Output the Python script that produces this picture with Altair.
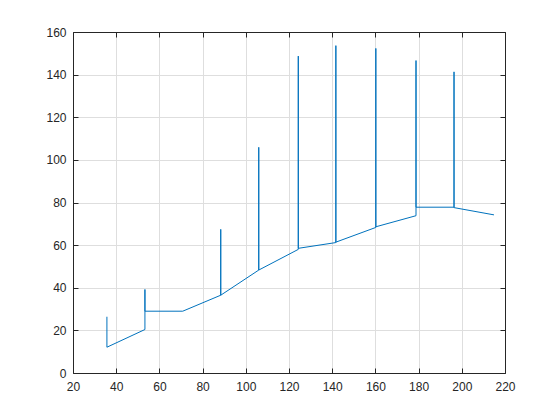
import altair as alt
import pandas as pd

# path of the plotted line, in drawing order
x_vals = [35.7, 35.7, 53.3, 53.3, 53.3, 70.8, 88.4, 88.4, 88.4, 106.0, 106.0, 106.0,
          124.3, 124.3, 124.3, 141.7, 141.7, 141.7, 160.2, 160.2, 160.2,
          178.8, 178.8, 178.8, 196.4, 196.4, 196.4, 214.9]
y_vals = [26.4, 12.1, 20.4, 39.2, 29.0, 29.0, 36.5, 67.4, 36.5, 48.3, 105.9, 48.3,
          58.0, 148.7, 58.5, 61.2, 153.6, 61.4, 68.3, 152.3, 68.6,
          73.8, 146.6, 77.8, 77.8, 141.3, 77.6, 74.2]
x_ticks = [20, 40, 60, 80, 100, 120, 140, 160, 180, 200, 220]
y_ticks = [0, 20, 40, 60, 80, 100, 120, 140, 160]

df = pd.DataFrame({"x": x_vals, "y": y_vals, "idx": list(range(len(x_vals)))})

W, H = 432, 341
AX = "#262626"
FONT = "Liberation Sans"

xs = alt.Scale(domain=[20, 220], nice=False, zero=False)
ys = alt.Scale(domain=[0, 160], nice=False, zero=False)

base = alt.Chart(df)

main = base.mark_line(color="#0072BD", strokeWidth=1).encode(
    x=alt.X("x:Q", scale=xs, axis=alt.Axis(
        orient="bottom", values=x_ticks, title=None, grid=True, gridColor="#DEDEDE",
        gridWidth=1, ticks=False, tickSize=0, domain=True, domainColor=AX,
        domainWidth=1, labelFont=FONT, labelFontSize=12, labelColor=AX,
        labelPadding=8, labelFlush=False)),
    y=alt.Y("y:Q", scale=ys, axis=alt.Axis(
        orient="left", values=y_ticks, title=None, grid=True, gridColor="#DEDEDE",
        gridWidth=1, ticks=False, tickSize=0, domain=True, domainColor=AX,
        domainWidth=1, labelFont=FONT, labelFontSize=12, labelColor=AX,
        labelPadding=7, labelFlush=False)),
    order="idx:Q",
)

# inward ticks at bottom and left edges
ticks_bl = base.mark_line(opacity=0).encode(
    x=alt.X("x:Q", scale=xs, axis=alt.Axis(
        orient="top", offset=-H, values=x_ticks, title=None, grid=False,
        labels=False, domain=False, ticks=True, tickSize=5, tickColor=AX, tickWidth=1)),
    y=alt.Y("y:Q", scale=ys, axis=alt.Axis(
        orient="right", offset=-W, values=y_ticks, title=None, grid=False,
        labels=False, domain=False, ticks=True, tickSize=5, tickColor=AX, tickWidth=1)),
    order="idx:Q",
)

# inward ticks and border at top and right edges
ticks_tr = base.mark_line(opacity=0).encode(
    x=alt.X("x:Q", scale=xs, axis=alt.Axis(
        orient="bottom", offset=-H, values=x_ticks, title=None, grid=False,
        labels=False, domain=True, domainColor=AX, domainWidth=1,
        ticks=True, tickSize=5, tickColor=AX, tickWidth=1)),
    y=alt.Y("y:Q", scale=ys, axis=alt.Axis(
        orient="left", offset=-W, values=y_ticks, title=None, grid=False,
        labels=False, domain=True, domainColor=AX, domainWidth=1,
        ticks=True, tickSize=5, tickColor=AX, tickWidth=1)),
    order="idx:Q",
)

chart = alt.layer(main, ticks_bl, ticks_tr).resolve_axis(
    x="independent", y="independent"
).properties(
    width=W, height=H,
    autosize=alt.AutoSizeParams(type="none"),
    padding={"left": 65, "top": 24, "right": 30, "bottom": 40},
).configure_view(stroke=None)

chart.save("out.html", embed_options={"renderer": "svg", "actions": False})
